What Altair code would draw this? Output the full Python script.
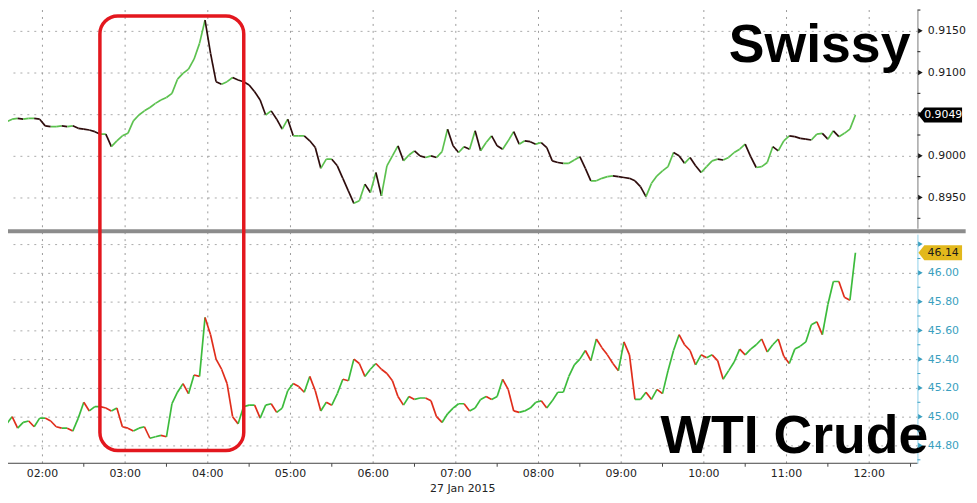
import altair as alt
import pandas as pd

# ---- data: 4-minute closes, 01:30 .. 11:50, 27 Jan 2015 ----
t_start = "2015-01-27 01:30"
bar_minutes = 4

swissy_close = [
    0.9037, 0.9041, 0.9044, 0.9045, 0.9044, 0.9045, 0.9045, 0.9044, 0.9036, 0.9035,
    0.9035, 0.9036, 0.9035, 0.9036, 0.9033, 0.9032, 0.9031, 0.9029, 0.9026, 0.9026,
    0.9011, 0.9018, 0.9024, 0.9027, 0.9042, 0.9049, 0.9054, 0.9058, 0.9063, 0.9067,
    0.9070, 0.9075, 0.9092, 0.9099, 0.9104, 0.9116, 0.9135, 0.9163, 0.9123, 0.9089,
    0.9086, 0.9089, 0.9094, 0.9091, 0.9089, 0.9085, 0.9077, 0.9067, 0.9049, 0.9054,
    0.9044, 0.9032, 0.9044, 0.9024, 0.9024, 0.9024, 0.9018, 0.9010, 0.8985, 0.8996,
    0.8996, 0.8988, 0.8973, 0.8958, 0.8943, 0.8946, 0.8966, 0.8956, 0.8980, 0.8952,
    0.8988, 0.9000, 0.9012, 0.8994, 0.9001, 0.9006, 0.9000, 0.8998, 0.9000, 0.8998,
    0.9005, 0.9032, 0.9012, 0.9004, 0.9011, 0.9008, 0.9030, 0.9006, 0.9016, 0.9024,
    0.9012, 0.9008, 0.9018, 0.9029, 0.9014, 0.9018, 0.9017, 0.9014, 0.9016, 0.9010,
    0.8994, 0.8992, 0.8991, 0.8991, 0.8995, 0.8999, 0.8985, 0.8970, 0.8970, 0.8973,
    0.8975, 0.8976, 0.8975, 0.8974, 0.8973, 0.8970, 0.8963, 0.8951, 0.8967, 0.8976,
    0.8982, 0.8987, 0.9004, 0.9000, 0.8991, 0.8998, 0.8988, 0.8980, 0.8987, 0.8994,
    0.8996, 0.8995, 0.8998, 0.9004, 0.9008, 0.9014, 0.8999, 0.8986, 0.8987, 0.8992,
    0.9011, 0.9006, 0.9018, 0.9024, 0.9023, 0.9021, 0.9020, 0.9019, 0.9026, 0.9027,
    0.9020, 0.9030, 0.9023, 0.9027, 0.9032, 0.9049,
]

wti_close = [
    44.93, 44.95, 45.00, 44.92, 44.96, 44.97, 44.93, 44.99, 44.99, 44.97,
    44.93, 44.92, 44.92, 44.90, 44.99, 45.10, 45.04, 45.07, 45.07, 45.06,
    45.04, 45.06, 44.93, 44.92, 44.90, 44.92, 44.93, 44.85, 44.86, 44.87,
    44.86, 45.09, 45.17, 45.23, 45.16, 45.29, 45.28, 45.69, 45.57, 45.40,
    45.33, 45.23, 45.00, 44.95, 45.07, 45.08, 45.08, 44.99, 45.08, 45.09,
    45.03, 45.06, 45.18, 45.23, 45.21, 45.17, 45.28, 45.18, 45.04, 45.10,
    45.08, 45.16, 45.26, 45.25, 45.40, 45.37, 45.28, 45.33, 45.37, 45.33,
    45.30, 45.25, 45.14, 45.08, 45.14, 45.12, 45.13, 45.13, 45.11, 45.00,
    44.96, 45.02, 45.06, 45.09, 45.09, 45.04, 45.06, 45.12, 45.14, 45.12,
    45.14, 45.26, 45.19, 45.04, 45.03, 45.04, 45.06, 45.10, 45.11, 45.06,
    45.11, 45.17, 45.17, 45.28, 45.36, 45.40, 45.46, 45.39, 45.54, 45.48,
    45.43, 45.37, 45.32, 45.52, 45.43, 45.12, 45.12, 45.17, 45.12, 45.19,
    45.16, 45.32, 45.46, 45.57, 45.50, 45.46, 45.36, 45.43, 45.41, 45.43,
    45.39, 45.26, 45.32, 45.38, 45.47, 45.43, 45.47, 45.50, 45.54, 45.45,
    45.50, 45.54, 45.42, 45.37, 45.47, 45.49, 45.52, 45.64, 45.66, 45.57,
    45.78, 45.94, 45.94, 45.83, 45.81, 46.14,
]

top_major = [0.8950, 0.9000, 0.9050, 0.9100, 0.9150]
top_minor = [0.8925, 0.8975, 0.9025, 0.9075, 0.9125, 0.9175]
bot_major = [44.8, 45.0, 45.2, 45.4, 45.6, 45.8, 46.0, 46.2]
bot_minor = [44.7, 44.9, 45.1, 45.3, 45.5, 45.7, 45.9, 46.1]
hour_labels = [2, 3, 4, 5, 6, 7, 8, 9, 10, 11, 12]
half_hour_ticks = [2.5, 3.5, 4.5, 5.5, 6.5, 7.5, 8.5, 9.5, 10.5, 11.5, 12.5]   # hours of day
date_label = "27 Jan 2015"

# ---- tables (x = hour of day, 27 Jan 2015) ----
times = pd.date_range(t_start, periods=len(swissy_close), freq=f"{bar_minutes}min")
hours = list((times - times.normalize()) / pd.Timedelta(hours=1))


def hod(hh, mm, ss=0):
    return hh + mm / 60 + ss / 3600


def segments(close):
    return pd.DataFrame({"t0": hours[:-1], "t1": hours[1:],
                         "v0": close[:-1], "v1": close[1:]})


top_df = segments(swissy_close)
bot_df = segments(wti_close)

X_START, X_END = hod(1, 35), hod(12, 35)
TOP_DOM = [0.89131, 0.91750]
BOT_DOM = [44.676, 46.269]
x_scale = alt.Scale(domain=[X_START, X_END], nice=False, zero=False)
top_scale = alt.Scale(domain=TOP_DOM, range=[220, 0], nice=False, zero=False)
bot_scale = alt.Scale(domain=BOT_DOM, range=[457, 226], nice=False, zero=False)
# value of the Swissy scale that reaches the bottom of the whole plot (linear extension)
TOP_AT_BOTTOM = TOP_DOM[1] - (TOP_DOM[1] - TOP_DOM[0]) * 457 / 220


def y_axis(values, expr, color, domain_color):
    return alt.Axis(
        orient="right", values=values, labelExpr=expr, title=None,
        grid=True, gridColor="#aaaaaa", gridDash=[2, 5],
        ticks=False, domainColor=domain_color,
        labelFont="DejaVu Sans", labelFontSize=11, labelColor=color, labelPadding=10,
        labelOverlap=False, labelFlush=False,
    )


# labels that sit under the live-price tags in the original are not printed
top_axis = y_axis(top_major, "abs(datum.value - 0.905) < 0.0001 ? '' : format(datum.value, '.4f')",
                  "#1a1a1a", "#777777")
bot_axis = y_axis(bot_major, "datum.value > 46.15 ? '' : format(datum.value, '.2f')",
                  "#3a9fc0", "#8fd0ea")

UP_TOP, DN_TOP = "#5cc14f", "#2e0c0c"
UP_BOT, DN_BOT = "#3cbb3c", "#e02d1b"
PRICE_TAG = "M-1,0L-0.73,-0.34L1,-0.34L1,0.34L-0.73,0.34Z"


def xq(field):
    return alt.X(field, scale=x_scale, axis=None)


def price_line(df, scale, axis, up, dn):
    return alt.Chart(df).mark_rule(clip=True, strokeWidth=1.7).encode(
        x=xq("t0:Q"), x2="t1:Q",
        y=alt.Y("v0:Q", scale=scale, axis=axis), y2="v1:Q",
        color=alt.condition("datum.v1 >= datum.v0", alt.value(up), alt.value(dn)),
    )


def right_ticks(major, minor, scale, color):
    maj = alt.Chart(pd.DataFrame({"t": [X_END] * len(major), "v": major})).mark_point(
        shape="triangle-right", size=28, filled=True, opacity=1, color=color, xOffset=3).encode(
        x=xq("t:Q"), y=alt.Y("v:Q", scale=scale, axis=None))
    mnr = alt.Chart(pd.DataFrame({"t": [X_END] * len(minor), "v": minor})).mark_point(
        shape="M0,0L1,0", size=36, filled=False, opacity=1, color=color, strokeWidth=1).encode(
        x=xq("t:Q"), y=alt.Y("v:Q", scale=scale, axis=None))
    return [maj, mnr]


def price_tag(close, scale, fill, text_color, fmt):
    last = pd.DataFrame({"v": [close[-1]], "label": [format(close[-1], fmt)]})
    tag = alt.Chart(last).mark_point(shape=PRICE_TAG, size=1936, filled=True, opacity=1,
                                      color=fill).encode(
        x=alt.value(940), y=alt.Y("v:Q", scale=scale, axis=None))
    txt = alt.Chart(last).mark_text(font="DejaVu Sans", fontSize=11, color=text_color,
                                    align="center", baseline="middle").encode(
        x=alt.value(943), y=alt.Y("v:Q", scale=scale, axis=None), text="label:N")
    return [tag, txt]


def big_label(label, t, v, scale, dx):
    df = pd.DataFrame({"t": [t], "v": [v], "label": [label]})
    return alt.Chart(df).mark_text(font="Liberation Sans", fontWeight="bold", fontSize=54, dx=dx,
                                   color="#000000", align="right", baseline="alphabetic").encode(
        x=xq("t:Q"), y=alt.Y("v:Q", scale=scale, axis=None), text="label:N")


# ---- time axis drawn from the x scale ----
grid_df = pd.DataFrame({"t": hour_labels, "y0": [TOP_DOM[1]] * len(hour_labels),
                        "y1": [TOP_AT_BOTTOM] * len(hour_labels)})
x_grid = alt.Chart(grid_df).mark_rule(color="#9a9a9a", strokeWidth=1, strokeDash=[2, 5]).encode(
    x=xq("t:Q"), y=alt.Y("y0:Q", scale=top_scale, axis=None), y2="y1:Q")

x_line = alt.Chart(pd.DataFrame({"t0": [X_START], "t1": [X_END], "v": [BOT_DOM[0]]})).mark_rule(
    color="#444444", strokeWidth=1).encode(
    x=xq("t0:Q"), x2="t1:Q", y=alt.Y("v:Q", scale=bot_scale, axis=None))

xt_df = pd.DataFrame({"t": half_hour_ticks, "v": [BOT_DOM[0]] * len(half_hour_ticks)})
x_ticks = alt.Chart(xt_df).mark_point(shape="M0,0L0,1", size=49, filled=False, opacity=1,
                                      color="#444", strokeWidth=1).encode(
    x=xq("t:Q"), y=alt.Y("v:Q", scale=bot_scale, axis=None))

xl_df = pd.DataFrame({"t": hour_labels, "v": [BOT_DOM[0]] * len(hour_labels),
                      "label": [f"{h:02d}:00" for h in hour_labels]})
x_labels = alt.Chart(xl_df).mark_text(font="DejaVu Sans", fontSize=11, color="#222222",
                                      align="center", baseline="top", dy=5).encode(
    x=xq("t:Q"), y=alt.Y("v:Q", scale=bot_scale, axis=None), text="label:N")

date_df = pd.DataFrame({"t": [(X_START + X_END) / 2], "v": [BOT_DOM[0]], "label": [date_label]})
x_date = alt.Chart(date_df).mark_text(font="DejaVu Sans", fontSize=11, color="#222222",
                                      align="center", baseline="top", dy=20).encode(
    x=xq("t:Q"), y=alt.Y("v:Q", scale=bot_scale, axis=None), text="label:N")

# red highlight box (in Swissy price units, extending down through the WTI panel)
box_df = pd.DataFrame({"t0": [hod(2, 41, 42)], "t1": [hod(4, 26, 6)],
                       "y0": [0.91678], "y1": [0.86464]})
box = alt.Chart(box_df).mark_rect(filled=False, color="#e3171e", strokeWidth=3.5, cornerRadius=18).encode(
    x=xq("t0:Q"), x2="t1:Q",
    y=alt.Y("y0:Q", scale=top_scale, axis=None), y2="y1:Q")

# grey divider between the panels
sep_df = pd.DataFrame({"t0": [X_START], "t1": [hod(13, 10)], "y": [0.89095]})
sep = alt.Chart(sep_df).mark_rule(color="#8c8c8c", strokeWidth=4).encode(
    x=xq("t0:Q"), x2="t1:Q",
    y=alt.Y("y:Q", scale=top_scale, axis=None))

layers = [
    x_grid,
    price_line(top_df, top_scale, top_axis, UP_TOP, DN_TOP),
    price_line(bot_df, bot_scale, bot_axis, UP_BOT, DN_BOT),
    big_label("Swissy", hod(12, 25, 36), 0.91130, top_scale, 6),
    big_label("WTI Crude", hod(12, 43, 36), 44.745, bot_scale, -1),
    sep, box, x_line, x_ticks, x_labels, x_date,
] + right_ticks(top_major, top_minor, top_scale, "#1a1a1a") \
  + right_ticks(bot_major, bot_minor, bot_scale, "#3a9fc0") \
  + price_tag(swissy_close, top_scale, "#000000", "#ffffff", ".4f") \
  + price_tag(wti_close, bot_scale, "#e2b81c", "#1a1a1a", ".2f")

chart = alt.layer(*layers).resolve_scale(y="independent").resolve_axis(
    y="independent").properties(
    width=917, height=457,
    padding={"left": 0, "top": 0, "right": 52, "bottom": 38},
    autosize=alt.AutoSizeParams(type="none"),
).configure_view(stroke=None)

chart.save("out.html", embed_options={"renderer": "svg", "actions": False})
